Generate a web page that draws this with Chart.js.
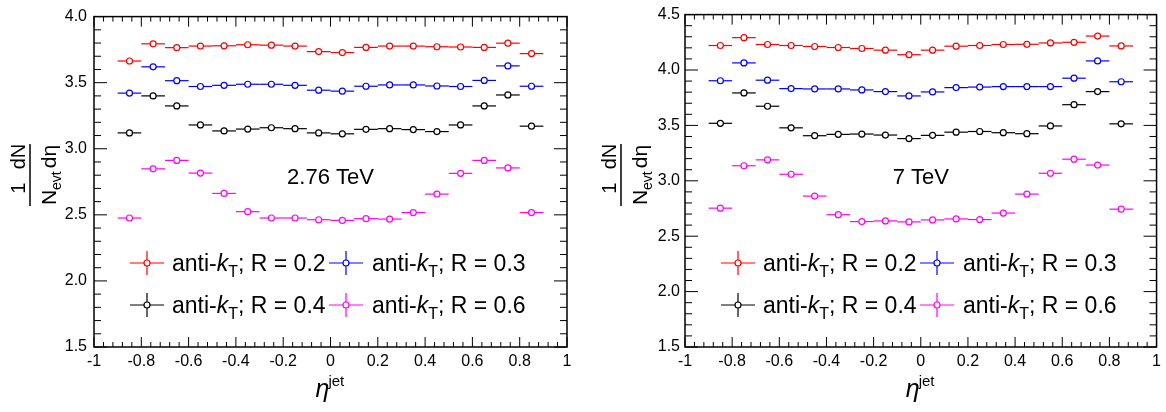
<!DOCTYPE html>
<html>
<head>
<meta charset="utf-8">
<script src="https://cdn.jsdelivr.net/npm/chart.js@4"></script>
<style>
  body { margin: 0; background: #fff; }
  #wrap { display: flex; width: 1166px; height: 412px; }
  canvas { display: block; }
</style>
</head>
<body>
<div id="wrap">
  <canvas id="c276" width="583" height="412"></canvas>
  <canvas id="c7" width="583" height="412"></canvas>
</div>
<script>
// eta bin centres, each bin is 0.1 wide
const etaBins = [-0.85, -0.75, -0.65, -0.55, -0.45, -0.35, -0.25, -0.15, -0.05,
                 0.05, 0.15, 0.25, 0.35, 0.45, 0.55, 0.65, 0.75, 0.85];
const binHalfWidth = 0.05;

const radii = ["0.2", "0.3", "0.4", "0.6"];
const colors = ["#ff0000", "#0000ff", "#000000", "#ff00ff"];

// 2.76 TeV
const r02_276 = [3.664, 3.794, 3.765, 3.777, 3.779, 3.787, 3.784, 3.777, 3.735, 3.728, 3.767, 3.777, 3.777, 3.772, 3.770, 3.767, 3.799, 3.720];
const r03_276 = [3.421, 3.620, 3.515, 3.471, 3.480, 3.488, 3.488, 3.480, 3.443, 3.436, 3.473, 3.483, 3.483, 3.475, 3.471, 3.517, 3.627, 3.473];
const r04_276 = [3.120, 3.400, 3.324, 3.180, 3.135, 3.149, 3.159, 3.152, 3.120, 3.113, 3.147, 3.152, 3.145, 3.130, 3.180, 3.324, 3.407, 3.171];
const r06_276 = [2.476, 2.848, 2.912, 2.816, 2.662, 2.524, 2.476, 2.476, 2.463, 2.458, 2.471, 2.468, 2.517, 2.657, 2.814, 2.912, 2.855, 2.517];

// 7 TeV
const r02_7 = [4.221, 4.292, 4.230, 4.221, 4.212, 4.203, 4.194, 4.179, 4.138, 4.179, 4.215, 4.221, 4.230, 4.232, 4.244, 4.250, 4.306, 4.217];
const r03_7 = [3.903, 4.064, 3.908, 3.832, 3.829, 3.829, 3.820, 3.805, 3.766, 3.802, 3.841, 3.846, 3.850, 3.850, 3.850, 3.926, 4.082, 3.894];
const r04_7 = [3.519, 3.793, 3.673, 3.478, 3.407, 3.419, 3.422, 3.413, 3.381, 3.410, 3.439, 3.445, 3.434, 3.425, 3.495, 3.687, 3.805, 3.514];
const r06_7 = [2.753, 3.136, 3.189, 3.059, 2.862, 2.694, 2.632, 2.638, 2.629, 2.647, 2.656, 2.650, 2.709, 2.880, 3.068, 3.195, 3.142, 2.744];

// tick values / labels
const xTicks = [-1, -0.8, -0.6, -0.4, -0.2, 0, 0.2, 0.4, 0.6, 0.8, 1];
const xTickLabels = ["-1", "-0.8", "-0.6", "-0.4", "-0.2", "0", "0.2", "0.4", "0.6", "0.8", "1"];
const yTicks276 = [1.5, 2.0, 2.5, 3.0, 3.5, 4.0];
const yTicks7 = [1.5, 2.0, 2.5, 3.0, 3.5, 4.0, 4.5];

const FONT = '"Liberation Sans", Arial, Helvetica, sans-serif';

// draw a run of text pieces with different fonts / baseline shifts
function drawRich(ctx, parts, x, y) {
    parts.forEach(p => {
        ctx.font = p.font;
        ctx.fillText(p.t, x, y + (p.dy || 0));
        x += ctx.measureText(p.t).width;
    });
    return x;
}

function drawErrMarker(ctx, cx, cy, color, hw, vh) {
    ctx.strokeStyle = color;
    ctx.lineWidth = 1.2;
    ctx.beginPath();
    ctx.moveTo(cx - hw, cy); ctx.lineTo(cx + hw, cy);
    if (vh) { ctx.moveTo(cx, cy - vh); ctx.lineTo(cx, cy + vh); }
    ctx.stroke();
    ctx.beginPath();
    ctx.arc(cx, cy, 3, 0, Math.PI * 2);
    ctx.fillStyle = "#fff";
    ctx.fill();
    ctx.stroke();
}

// ROOT style frame: inward ticks on all 4 sides, titles, legend
const rootPlugin = {
    id: "rootPlugin",
    beforeDatasetsDraw(chart) {
        const { ctx, scales: { x, y } } = chart;
        ctx.save();
        ctx.lineWidth = 1.2;
        chart.data.datasets.forEach(ds => {
            ctx.strokeStyle = ds.borderColor;
            ds.data.forEach(p => {
                const py = y.getPixelForValue(p.y);
                ctx.beginPath();
                ctx.moveTo(x.getPixelForValue(p.x - binHalfWidth), py);
                ctx.lineTo(x.getPixelForValue(p.x + binHalfWidth), py);
                ctx.stroke();
            });
        });
        ctx.restore();
    },
    afterDraw(chart, args, opts) {
        const { ctx, chartArea: a, scales: { x, y } } = chart;
        ctx.save();
        ctx.strokeStyle = "#000";
        ctx.lineWidth = 1.5;
        ctx.strokeRect(a.left, a.top, a.right - a.left, a.bottom - a.top);

        ctx.lineWidth = 1;
        ctx.beginPath();
        // x ticks, 5 subdivisions
        for (let i = 0; i < xTicks.length; i++) {
            const px = x.getPixelForValue(xTicks[i]);
            ctx.moveTo(px, a.bottom); ctx.lineTo(px, a.bottom - 10);
            ctx.moveTo(px, a.top); ctx.lineTo(px, a.top + 10);
            if (i < xTicks.length - 1) {
                const step = (xTicks[i + 1] - xTicks[i]) / 5;
                for (let k = 1; k < 5; k++) {
                    const mx = x.getPixelForValue(xTicks[i] + k * step);
                    ctx.moveTo(mx, a.bottom); ctx.lineTo(mx, a.bottom - 5);
                    ctx.moveTo(mx, a.top); ctx.lineTo(mx, a.top + 5);
                }
            }
        }
        // y ticks, 5 subdivisions
        const yt = opts.yTicks;
        for (let i = 0; i < yt.length; i++) {
            const py = y.getPixelForValue(yt[i]);
            ctx.moveTo(a.left, py); ctx.lineTo(a.left + 13, py);
            ctx.moveTo(a.right, py); ctx.lineTo(a.right - 13, py);
            if (i < yt.length - 1) {
                const step = (yt[i + 1] - yt[i]) / 5;
                for (let k = 1; k < 5; k++) {
                    const my = y.getPixelForValue(yt[i] + k * step);
                    ctx.moveTo(a.left, my); ctx.lineTo(a.left + 7, my);
                    ctx.moveTo(a.right, my); ctx.lineTo(a.right - 7, my);
                }
            }
        }
        ctx.stroke();

        ctx.fillStyle = "#000";
        const cx = (a.left + a.right) / 2;

        // energy label
        ctx.font = "22px " + FONT;
        ctx.textAlign = "center";
        ctx.textBaseline = "middle";
        ctx.fillText(opts.energy, cx, 178);

        // x title: eta^jet
        ctx.textAlign = "left";
        ctx.textBaseline = "alphabetic";
        ctx.font = "italic 25px " + FONT;
        const ex = cx - 15;
        ctx.fillText("\u03b7", ex, 397);
        const ew = ctx.measureText("\u03b7").width;
        ctx.font = "15px " + FONT;
        ctx.fillText("jet", ex + ew - 1, 386);

        // y title: 1/N_evt dN/deta, rotated
        ctx.save();
        ctx.translate(a.left - 64, 175);
        ctx.rotate(-Math.PI / 2);
        const denFont = "21px " + FONT, subFont = "14px " + FONT, numFont = "20px " + FONT;
        ctx.font = denFont; const wN = ctx.measureText("N").width;
        ctx.font = subFont; const wEvt = ctx.measureText("evt").width;
        ctx.font = denFont; const wDeta = ctx.measureText("d\u03b7").width;
        const gap = 3;
        const total = wN + wEvt + gap + wDeta;
        const lx = -total / 2;
        ctx.font = denFont; ctx.fillText("N", lx, 26);
        ctx.font = subFont; ctx.fillText("evt", lx + wN, 31);
        ctx.textAlign = "center";
        ctx.font = numFont; ctx.fillText("1", lx + (wN + wEvt) / 2, -5);
        const dx = lx + wN + wEvt + gap;
        ctx.textAlign = "left";
        ctx.font = denFont; ctx.fillText("d\u03b7", dx, 26);
        ctx.textAlign = "center";
        ctx.font = numFont; ctx.fillText("dN", dx + wDeta / 2, -5);
        ctx.lineWidth = 1.5;
        ctx.beginPath();
        ctx.moveTo(lx - 1, 0); ctx.lineTo(lx + total + 1, 0);
        ctx.stroke();
        ctx.restore();

        // legend, 2 columns
        const markerOff = [53, 252], textOff = [78, 278], rows = [263, 305];
        ctx.textAlign = "left";
        chart.data.datasets.forEach((ds, i) => {
            const col = i % 2, row = Math.floor(i / 2);
            const my = rows[row];
            drawErrMarker(ctx, a.left + markerOff[col], my, ds.borderColor, 17, 12);
            ctx.fillStyle = "#000";
            drawRich(ctx, [
                { t: "anti-", font: "23px " + FONT },
                { t: "k", font: "italic 23px " + FONT },
                { t: "T", font: "16px " + FONT, dy: 6 },
                { t: "; R = " + radii[i], font: "23px " + FONT }
            ], a.left + textOff[col], my + 8);
        });
        ctx.restore();
    }
};

function makeChart(id, series, yTicks, energy, axisWidth, padRight, yLabelPad) {
    const datasets = series.map((vals, i) => ({
        label: "anti-kT; R = " + radii[i],
        data: etaBins.map((e, j) => ({ x: e, y: vals[j] })),
        borderColor: colors[i],
        backgroundColor: "#fff",
        pointRadius: 3,
        pointBorderWidth: 1.2,
        pointBackgroundColor: "#fff",
        showLine: false
    }));
    return new Chart(document.getElementById(id), {
        type: "scatter",
        data: { datasets },
        options: {
            responsive: false,
            animation: false,
            events: [],
            layout: { padding: { top: 7, right: padRight, left: 0, bottom: 0 } },
            plugins: {
                legend: { display: false },
                tooltip: { enabled: false },
                rootPlugin: { yTicks, energy }
            },
            scales: {
                x: {
                    type: "linear",
                    min: -1, max: 1,
                    grid: { display: false, drawTicks: false, tickLength: 0 },
                    border: { display: false },
                    afterBuildTicks: s => { s.ticks = xTicks.map(v => ({ value: v })); },
                    afterFit: s => { s.height = 65; },
                    ticks: {
                        autoSkip: false, maxRotation: 0, padding: 5,
                        color: "#000", font: { family: FONT, size: 16 },
                        callback: (v, i) => xTickLabels[i]
                    }
                },
                y: {
                    type: "linear",
                    min: yTicks[0], max: yTicks[yTicks.length - 1],
                    grid: { display: false, drawTicks: false, tickLength: 0 },
                    border: { display: false },
                    afterBuildTicks: s => { s.ticks = yTicks.map(v => ({ value: v })); },
                    afterFit: s => { s.width = axisWidth; },
                    ticks: {
                        autoSkip: false, padding: yLabelPad,
                        color: "#000", font: { family: FONT, size: 16 },
                        callback: v => v.toFixed(1)
                    }
                }
            }
        },
        plugins: [rootPlugin]
    });
}

makeChart("c276", [r02_276, r03_276, r04_276, r06_276], yTicks276, "2.76 TeV", 94, 16, 7);
makeChart("c7", [r02_7, r03_7, r04_7, r06_7], yTicks7, "7 TeV", 102, 8, 5);
</script>
</body>
</html>
